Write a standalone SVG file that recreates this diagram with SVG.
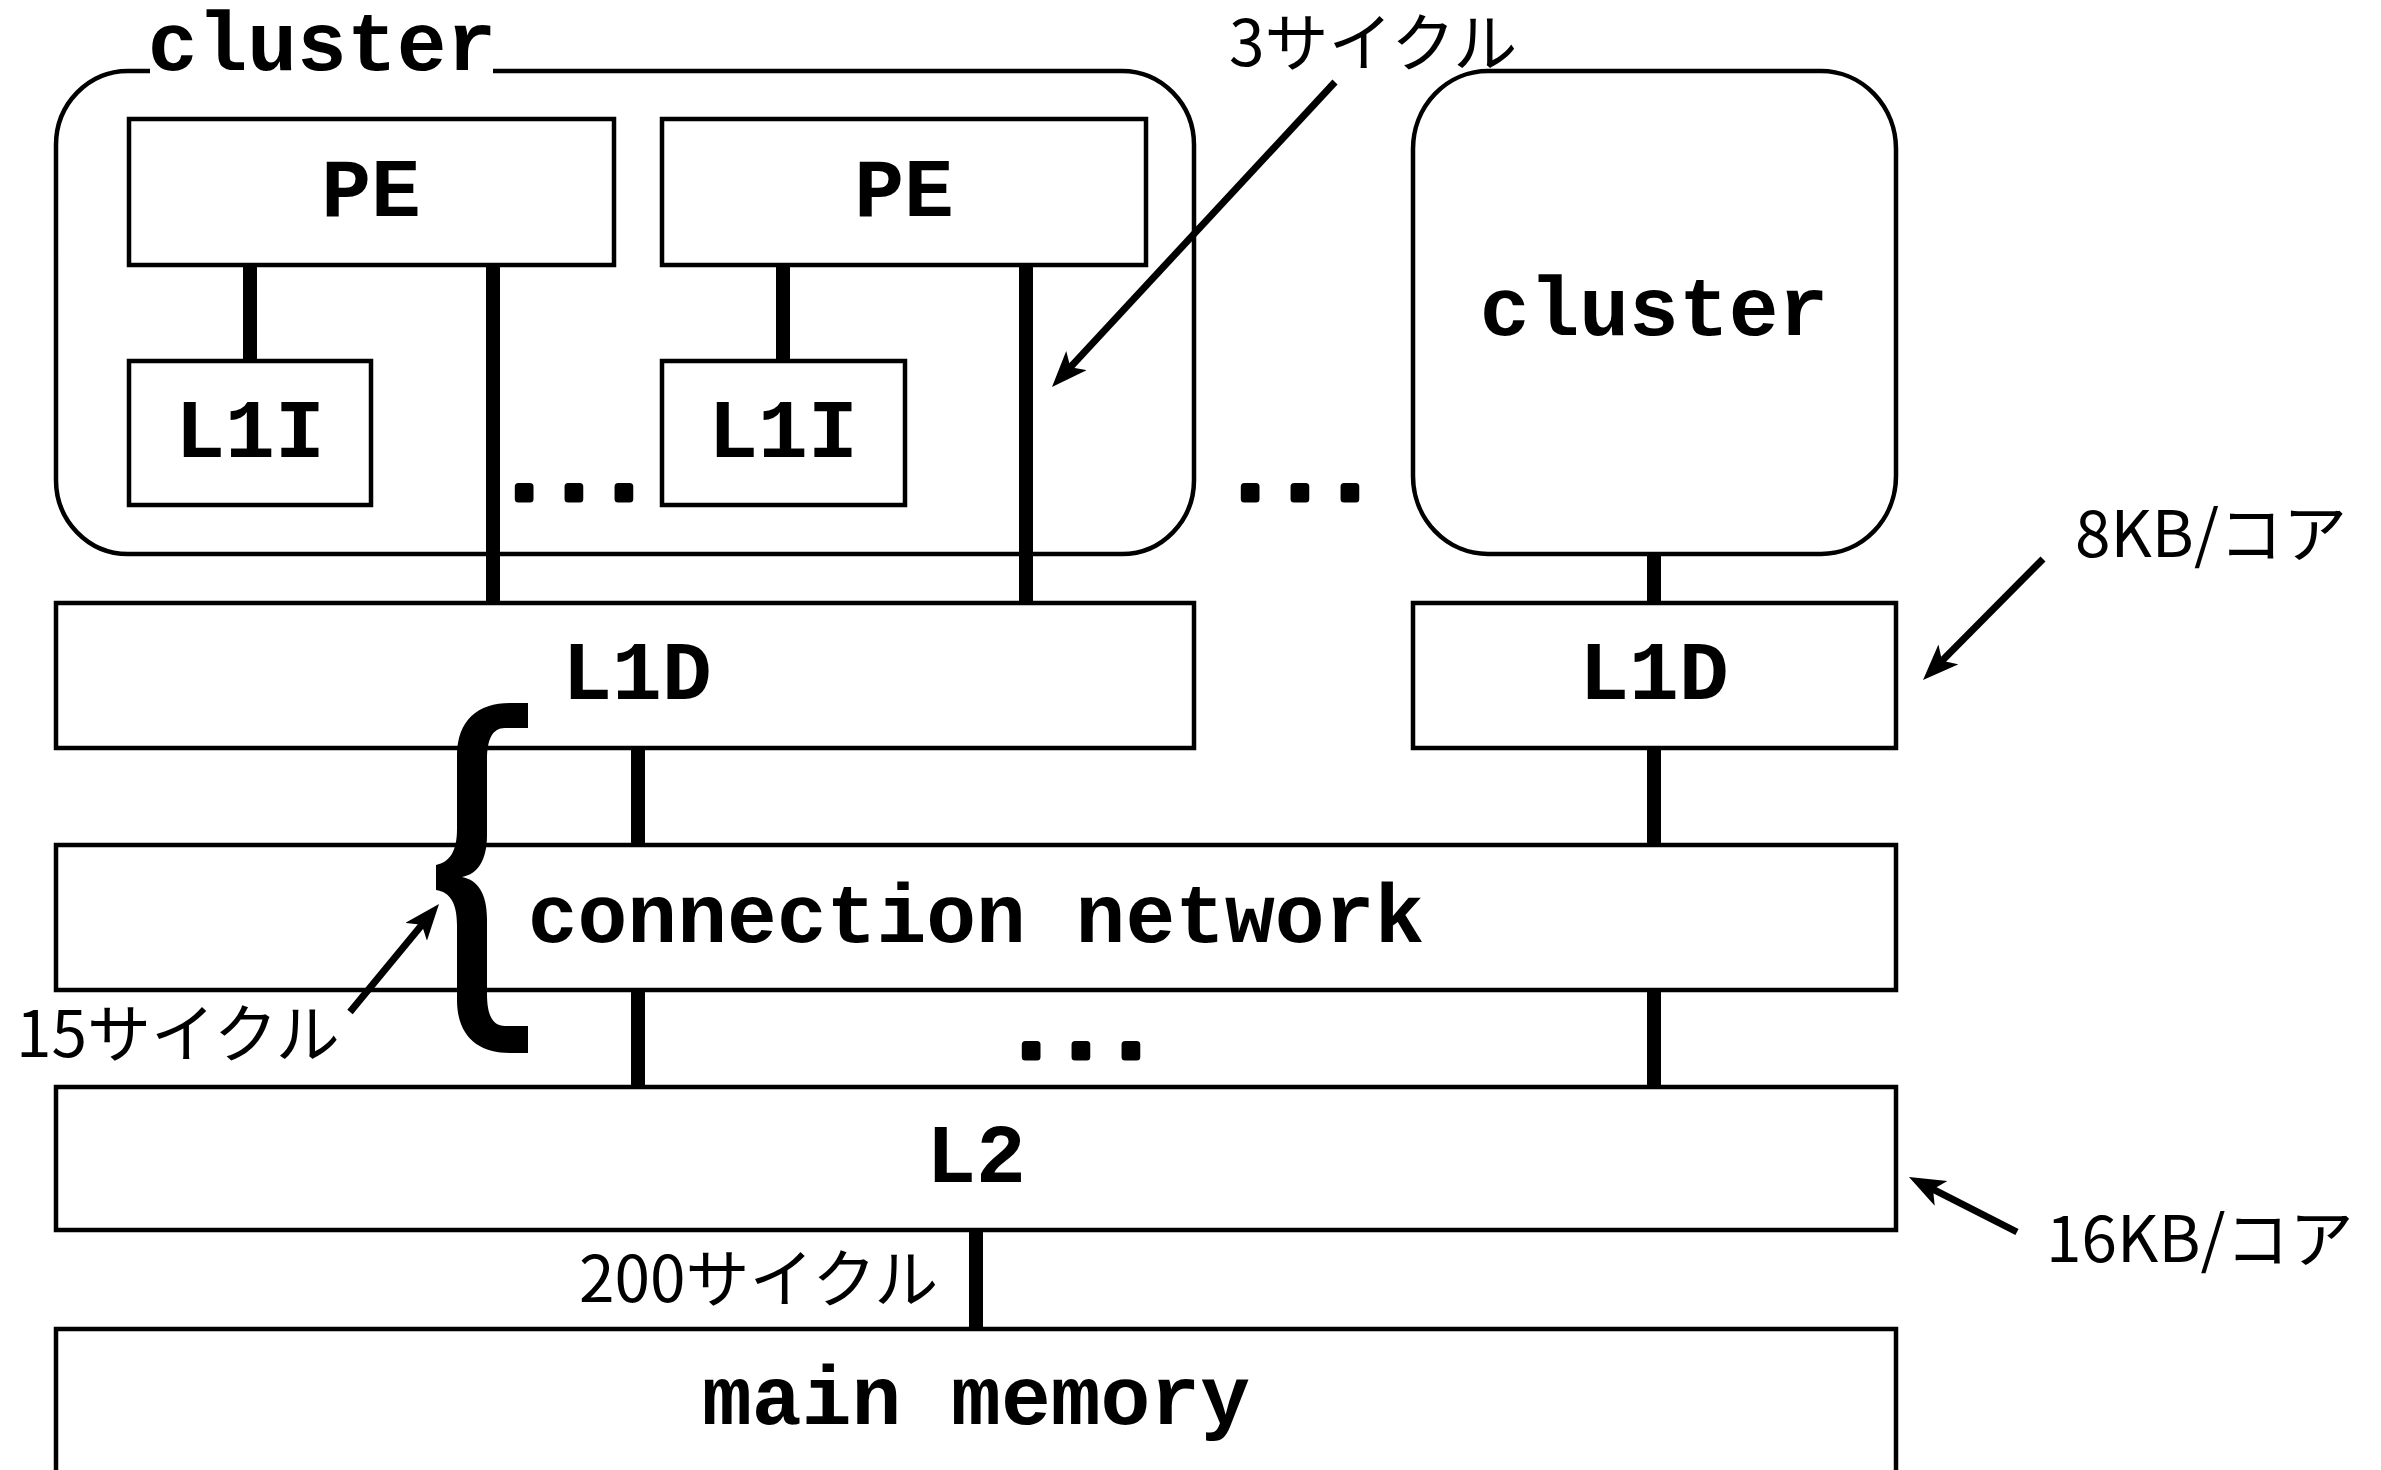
<svg xmlns="http://www.w3.org/2000/svg" width="2381" height="1470" viewBox="0 0 2381 1470">
<style>
.box{fill:#fff;stroke:#000;stroke-width:4.5}
.mono{font-family:"Liberation Mono","Courier New",monospace;font-weight:bold;font-size:83px;fill:#000;text-anchor:middle}
.dots{stroke:#000;stroke-width:7;stroke-linejoin:round}
.jp{font-family:"Noto Sans CJK JP","Noto Sans",sans-serif;font-size:64px;fill:#000}
.bus{stroke:#000;stroke-width:14;fill:none}
.arr{stroke:#000;stroke-width:7;fill:none;marker-end:url(#ah)}
</style>
<defs>
<marker id="ah" markerUnits="userSpaceOnUse" markerWidth="40" markerHeight="30" refX="16" refY="14" orient="auto" viewBox="0 0 40 30">
<path d="M0,0 L36,14 L0,28 L9,14 Z" fill="#000"/>
</marker>
</defs>
<rect width="2381" height="1470" fill="#fff"/>

<g id="cluster1">
<rect class="box" x="56" y="71" width="1138" height="483" rx="72" ry="74"/>
<rect x="150" y="50" width="343" height="40" fill="#fff"/>
<text class="mono" x="322" y="70">cluster</text>
</g>
<g id="pe1"><rect class="box" x="129" y="119" width="485" height="146"/><text class="mono" x="371" y="216">PE</text></g>
<g id="pe2"><rect class="box" x="662" y="119" width="484" height="146"/><text class="mono" x="904" y="216">PE</text></g>
<g id="l1i1"><rect class="box" x="129" y="361" width="242" height="144"/><text class="mono" x="250" y="457">L1I</text></g>
<g id="l1i2"><rect class="box" x="662" y="361" width="243" height="144"/><text class="mono" x="783" y="457">L1I</text></g>
<g id="cluster2">
<rect class="box" x="1413" y="71" width="483" height="483" rx="75" ry="78"/>
<text class="mono" x="1654" y="335">cluster</text>
</g>
<g id="l1d1"><rect class="box" x="56" y="603" width="1138" height="145"/><text class="mono" x="637" y="699">L1D</text></g>
<g id="l1d2"><rect class="box" x="1413" y="603" width="483" height="145"/><text class="mono" x="1654" y="699">L1D</text></g>
<g id="network"><rect class="box" x="56" y="845" width="1840" height="145"/><text class="mono" x="976" y="942">connection network</text></g>
<g id="l2"><rect class="box" x="56" y="1087" width="1840" height="143"/><text class="mono" x="976" y="1182">L2</text></g>
<g id="mainmem"><rect class="box" x="56" y="1329" width="1840" height="200"/><text class="mono" x="976" y="1424">main memory</text></g>

<g id="connectors">
<line class="bus" x1="250" y1="265" x2="250" y2="361"/>
<line class="bus" x1="783" y1="265" x2="783" y2="361"/>
<line class="bus" x1="493" y1="265" x2="493" y2="603"/>
<line class="bus" x1="1026" y1="265" x2="1026" y2="603"/>
<line class="bus" x1="1654" y1="554" x2="1654" y2="603"/>
<line class="bus" x1="638" y1="748" x2="638" y2="845"/>
<line class="bus" x1="1654" y1="748" x2="1654" y2="845"/>
<line class="bus" x1="638" y1="990" x2="638" y2="1087"/>
<line class="bus" x1="1654" y1="990" x2="1654" y2="1087"/>
<line class="bus" x1="976" y1="1230" x2="976" y2="1329"/>
<line class="arr" x1="1335" y1="82" x2="1065.6" y2="372.3"/>
<line class="arr" x1="2043" y1="559" x2="1937.1" y2="665.8"/>
<line class="arr" x1="350" y1="1012" x2="426.3" y2="919.4"/>
<line class="arr" x1="2017" y1="1232" x2="1926.8" y2="1186.1"/>
</g>

<g id="annotations">
<text class="mono dots" x="574" y="499">...</text>
<text class="mono dots" x="1300" y="499">...</text>
<text class="mono dots" x="1081" y="1057">...</text>
<path id="brace" d="M528,703 L528,728 L505,728 C492,728 487,740 487,760 L487,835 C487,860 478,874 462,877 C478,880 487,894 487,919 L487,994 C487,1014 492,1026 505,1026 L528,1026 L528,1053 L510,1053 C478,1053 457,1036 457,1000 L457,925 C457,903 450,892 436,890 L436,865 C450,862 457,851 457,829 L457,756 C457,720 478,703 510,703 Z" fill="#000"/>
<text class="jp" x="1229" y="66" font-size="62">3サイクル</text>
<text class="jp" x="2075" y="557" font-size="66">8KB/コア</text>
<text class="jp" x="16" y="1057">15サイクル</text>
<text class="jp" x="579" y="1302" font-size="65">200サイクル</text>
<text class="jp" x="2046" y="1262" font-size="66">16KB/コア</text>
</g>
</svg>
